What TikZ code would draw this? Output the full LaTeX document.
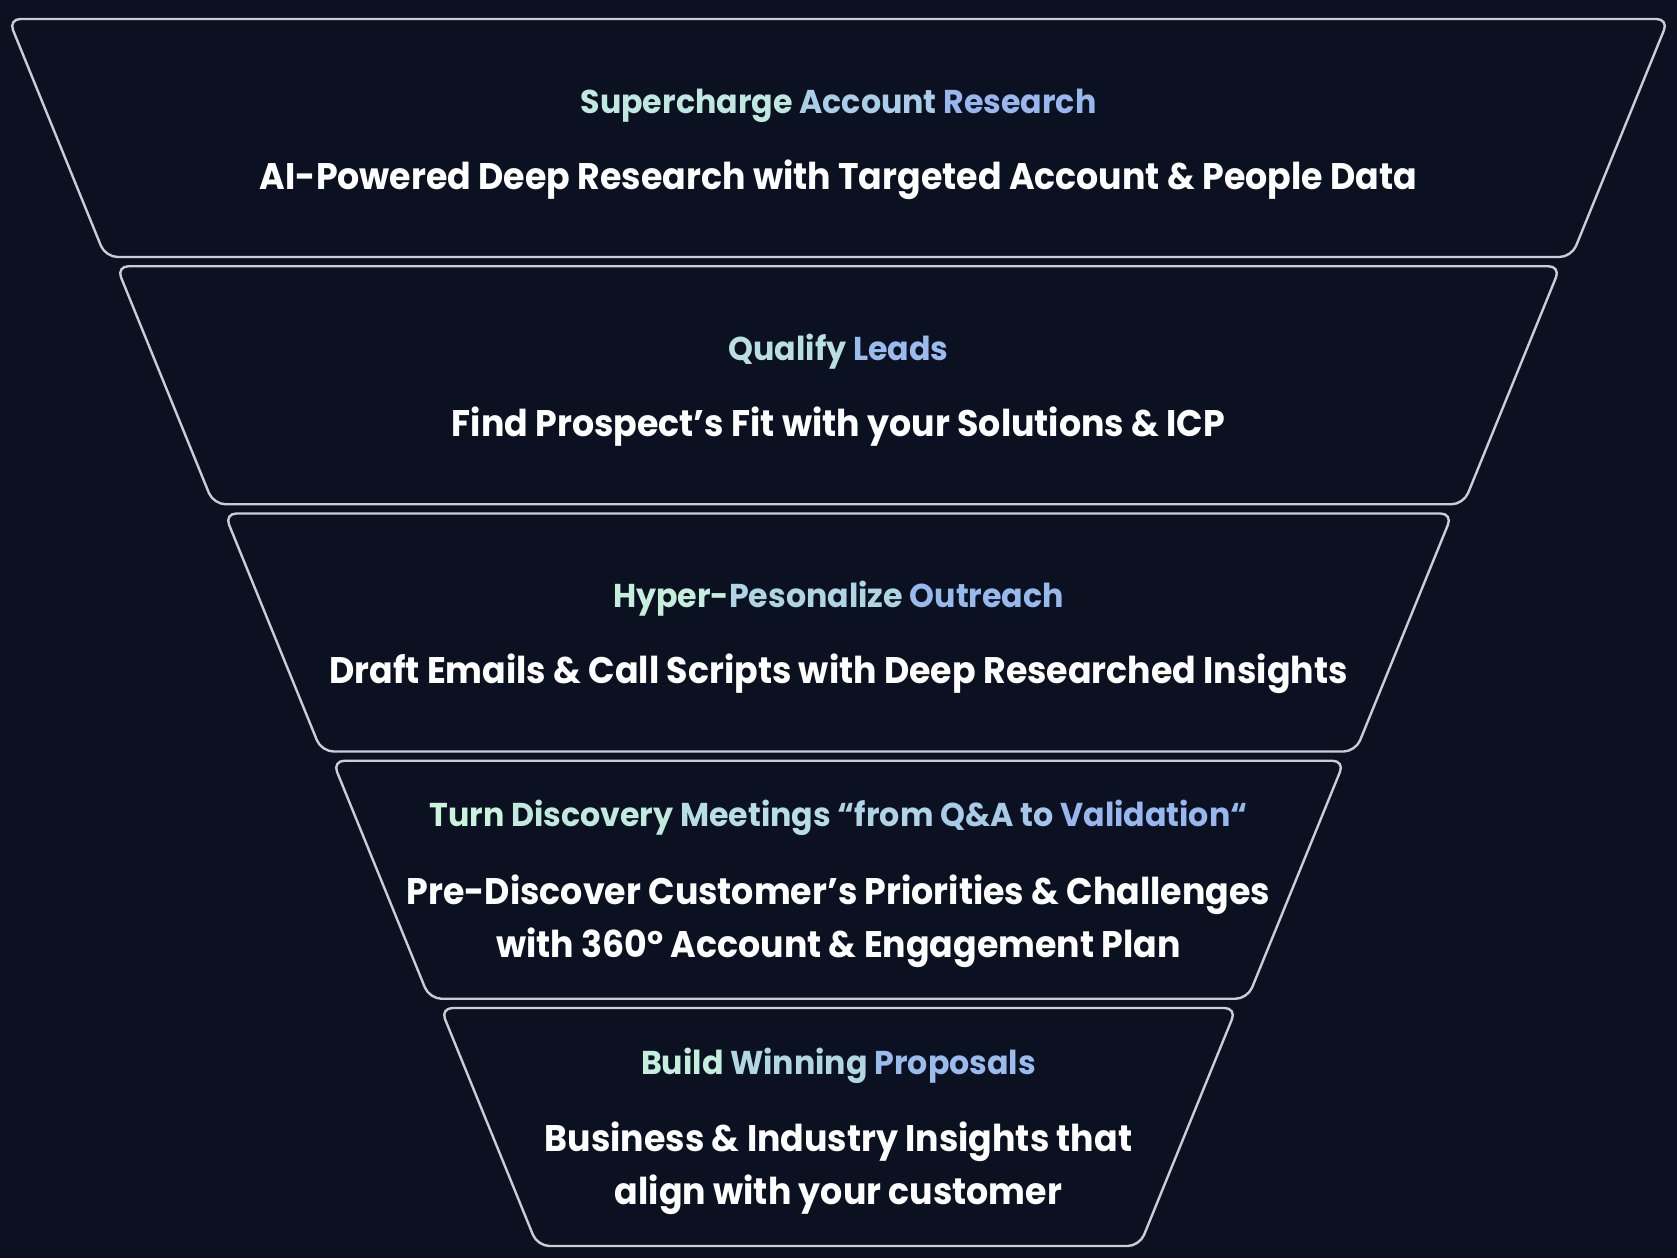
\documentclass[tikz,border=0pt]{standalone}
\usepackage{fontspec}
\setmainfont{Poppins}[FakeStretch=0.94]
\newfontfamily\headfont{Poppins}[FakeStretch=0.96]
\definecolor{bg}{HTML}{0B1120}
\definecolor{edge}{HTML}{C9CDD4}
\definecolor{mint}{HTML}{CBF7DA}
\definecolor{sky}{HTML}{8EACF2}
\newcommand\gw[2]{{\color{mint!#1!sky}#2}}
\begin{document}
\begin{tikzpicture}[x=1pt,y=-1pt,
  tier/.style={draw=edge, line width=2.4pt, rounded corners=12pt},
  head/.style={font=\headfont\fontsize{33}{40}\selectfont\bfseries, inner sep=0pt, anchor=base},
  body/.style={font=\fontsize{37}{53}\selectfont\bfseries, text=white, align=center, inner sep=0pt, anchor=base}]
\fill[bg] (0,0) rectangle (1677,1258);
\useasboundingbox (0,0) rectangle (1677,1258);
\foreach \i in {0,...,4}{
  \pgfmathsetmacro\yt{19+247.25*\i}
  \pgfmathsetmacro\yb{\yt+238}
  \pgfmathsetmacro\xlt{8.5+108*\i}
  \pgfmathsetmacro\xlb{\xlt+97}
  \pgfmathsetmacro\xrt{1677-\xlt}
  \pgfmathsetmacro\xrb{1677-\xlb}
  \draw[tier] (\xlt,\yt) -- (\xrt,\yt) -- (\xrb,\yb) -- (\xlb,\yb) -- cycle;
}
% tier 1
\node[head] (h1) at (838.5,113) {\gw{80}{Supercharge} \gw{45}{Account} \gw{15}{Research}};
\node[body] (b1) at (838.5,189) {AI-Powered Deep Research with Targeted Account \& People Data};
% tier 2
\node[head] (h2) at (838.5,360.25) {\gw{70}{Qualify} \gw{20}{Leads}};
\node[body] (b2) at (838.5,436.25) {Find Prospect’s Fit with your Solutions \& ICP};
% tier 3
\node[head] (h3) at (838.5,607.5) {\gw{90}{Hyper-}\gw{55}{Pesonalize} \gw{17}{Outreach}};
\node[body] (b3) at (838.5,683.5) {Draft Emails \& Call Scripts with Deep Researched Insights};
% tier 4
\node[head] (h4) at (838.5,826.75) {\gw{96}{Turn} \gw{83}{Discovery} \gw{67}{Meetings} \gw{53}{“from} \gw{42}{Q\&A} \gw{34}{to} \gw{15}{Validation“}};
\node[body] (b4) at (838.5,957.25) {Pre-Discover Customer’s Priorities \& Challenges\\with 360° Account \& Engagement Plan};
% tier 5
\node[head] (h5) at (838.5,1074) {\gw{88}{Build} \gw{58}{Winning} \gw{20}{Proposals}};
\node[body] (b5) at (838.5,1204.5) {Business \& Industry Insights that\\align with your customer};
\end{tikzpicture}
\end{document}
